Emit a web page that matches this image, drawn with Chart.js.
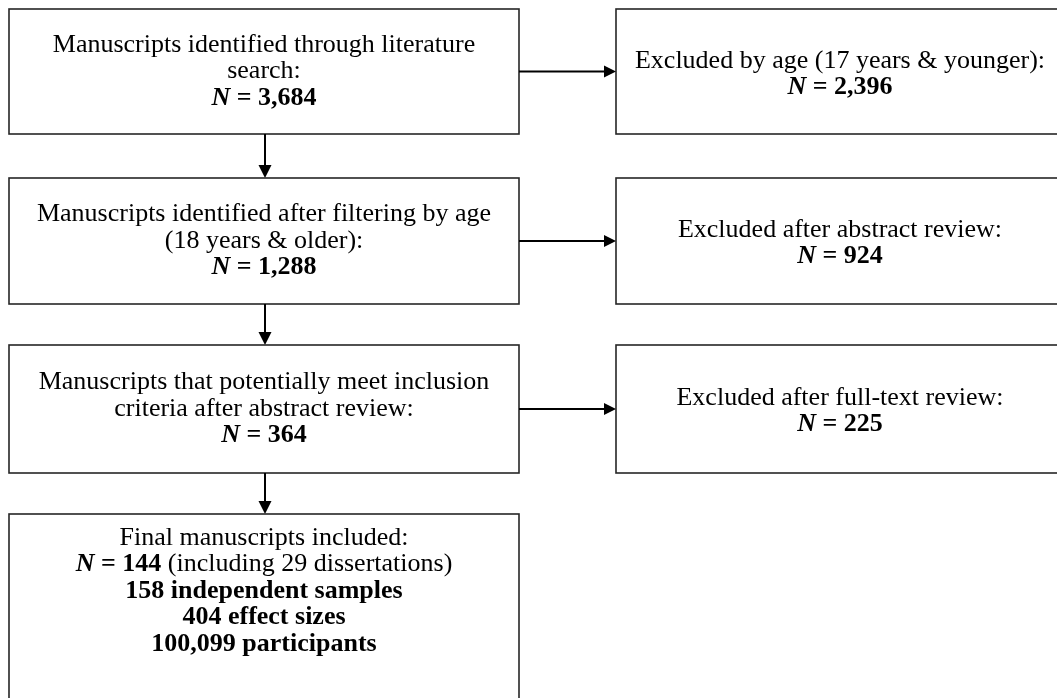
<!DOCTYPE html>
<html>
<head>
<meta charset="utf-8">
<script src="https://cdn.jsdelivr.net/npm/chart.js@4/dist/chart.umd.min.js"></script>
<style>
  html, body { margin: 0; padding: 0; background: #fff; }
  #flow { display: block; }
</style>
</head>
<body>
<canvas id="flow" width="1057" height="698"></canvas>
<script>
// screening steps (left column)
const stepTitles = [
  ['Manuscripts identified through literature', 'search:'],
  ['Manuscripts identified after filtering by age', '(18 years & older):'],
  ['Manuscripts that potentially meet inclusion', 'criteria after abstract review:'],
  ['Final manuscripts included:']
];
const stepCounts = [3684, 1288, 364, 144];

// exclusions (right column)
const excludedTitles = [
  'Excluded by age (17 years & younger):',
  'Excluded after abstract review:',
  'Excluded after full-text review:'
];
const excludedCounts = [2396, 924, 225];

// final summary
const dissertations = 29;
const independentSamples = 158;
const effectSizes = 404;
const participants = 100099;

// layout, in axis units (x: 0..1057, y: 0..698 top-down)
const leftCol  = [9, 519];
const rightCol = [616, 1064];
const rowSpans = [[9, 134], [178, 304], [345, 473], [514, 702]];
const leftTextMid  = [71.5, 241, 409, 591];
const rightTextMid = [74, 243, 411.5];
const arrowX = 265;

const FONT = '"Liberation Serif", "Times New Roman", serif';
const SIZE = 26;
const LINE_H = 26.5;

const fmt = n => n.toLocaleString('en-US');

function countLine(n) {
  return [
    { t: 'N', s: 'italic bold' },
    { t: ' = ' + fmt(n), s: 'bold' }
  ];
}

function buildLeftLines(i) {
  const lines = stepTitles[i].map(t => [{ t, s: '' }]);
  if (i < 3) {
    lines.push(countLine(stepCounts[i]));
  } else {
    lines.push(countLine(stepCounts[i]).concat([{ t: ' (including ' + dissertations + ' dissertations)', s: '' }]));
    lines.push([{ t: independentSamples + ' independent samples', s: 'bold' }]);
    lines.push([{ t: effectSizes + ' effect sizes', s: 'bold' }]);
    lines.push([{ t: fmt(participants) + ' participants', s: 'bold' }]);
  }
  return lines;
}

function buildRightLines(i) {
  return [[{ t: excludedTitles[i], s: '' }], countLine(excludedCounts[i])];
}

function drawLines(ctx, lines, cx, midY) {
  ctx.textBaseline = 'middle';
  ctx.textAlign = 'left';
  ctx.fillStyle = '#000';
  const top = midY - (lines.length - 1) * LINE_H / 2;
  lines.forEach((runs, li) => {
    let w = 0;
    runs.forEach(r => {
      ctx.font = `${r.s} ${SIZE}px ${FONT}`;
      r.w = ctx.measureText(r.t).width;
      w += r.w;
    });
    let x = cx - w / 2;
    const y = top + li * LINE_H;
    runs.forEach(r => {
      ctx.font = `${r.s} ${SIZE}px ${FONT}`;
      ctx.fillText(r.t, x, y);
      x += r.w;
    });
  });
}

function hArrow(ctx, xs, ys, x0, x1, y) {
  const px0 = xs.getPixelForValue(x0), px1 = xs.getPixelForValue(x1);
  const py = ys.getPixelForValue(y);
  ctx.strokeStyle = '#000';
  ctx.lineWidth = 2;
  ctx.beginPath();
  ctx.moveTo(px0, py);
  ctx.lineTo(px1 - 10, py);
  ctx.stroke();
  ctx.fillStyle = '#000';
  ctx.beginPath();
  ctx.moveTo(px1, py);
  ctx.lineTo(px1 - 12, py - 6);
  ctx.lineTo(px1 - 12, py + 6);
  ctx.closePath();
  ctx.fill();
}

function vArrow(ctx, xs, ys, x, y0, y1) {
  const px = xs.getPixelForValue(x);
  const py0 = ys.getPixelForValue(y0), py1 = ys.getPixelForValue(y1);
  ctx.strokeStyle = '#000';
  ctx.lineWidth = 2;
  ctx.beginPath();
  ctx.moveTo(px, py0);
  ctx.lineTo(px, py1 - 10);
  ctx.stroke();
  ctx.fillStyle = '#000';
  ctx.beginPath();
  ctx.moveTo(px, py1);
  ctx.lineTo(px - 6.5, py1 - 13);
  ctx.lineTo(px + 6.5, py1 - 13);
  ctx.closePath();
  ctx.fill();
}

function box(ctx, xs, ys, xr, yr) {
  const x0 = xs.getPixelForValue(xr[0]), x1 = xs.getPixelForValue(xr[1]);
  const y0 = ys.getPixelForValue(yr[0]), y1 = ys.getPixelForValue(yr[1]);
  ctx.strokeStyle = '#262626';
  ctx.lineWidth = 1.6;
  ctx.strokeRect(x0, y0, x1 - x0, y1 - y0);
}

const flowPlugin = {
  id: 'flow',
  afterDatasetsDraw(chart) {
    const ctx = chart.ctx;
    const xs = chart.scales.x, ys = chart.scales.y;
    ctx.save();

    stepTitles.forEach((_, i) => {
      box(ctx, xs, ys, leftCol, rowSpans[i]);
      const cx = xs.getPixelForValue((leftCol[0] + leftCol[1]) / 2);
      drawLines(ctx, buildLeftLines(i), cx, ys.getPixelForValue(leftTextMid[i]));
      if (i < stepTitles.length - 1) {
        vArrow(ctx, xs, ys, arrowX, rowSpans[i][1], rowSpans[i + 1][0]);
      }
    });

    excludedTitles.forEach((_, i) => {
      box(ctx, xs, ys, rightCol, rowSpans[i]);
      const cx = xs.getPixelForValue((rightCol[0] + rightCol[1]) / 2);
      drawLines(ctx, buildRightLines(i), cx, ys.getPixelForValue(rightTextMid[i]));
      const midY = (rowSpans[i][0] + rowSpans[i][1]) / 2;
      hArrow(ctx, xs, ys, leftCol[1], rightCol[0], midY);
    });

    ctx.restore();
  }
};

new Chart(document.getElementById('flow'), {
  type: 'scatter',
  data: { datasets: [{ data: [], pointRadius: 0 }] },
  options: {
    responsive: false,
    animation: false,
    layout: { padding: 0 },
    plugins: { legend: { display: false }, tooltip: { enabled: false } },
    scales: {
      x: { type: 'linear', min: 0, max: 1057, display: false },
      y: { type: 'linear', min: 0, max: 698, reverse: true, display: false }
    }
  },
  plugins: [flowPlugin]
});
</script>
</body>
</html>
